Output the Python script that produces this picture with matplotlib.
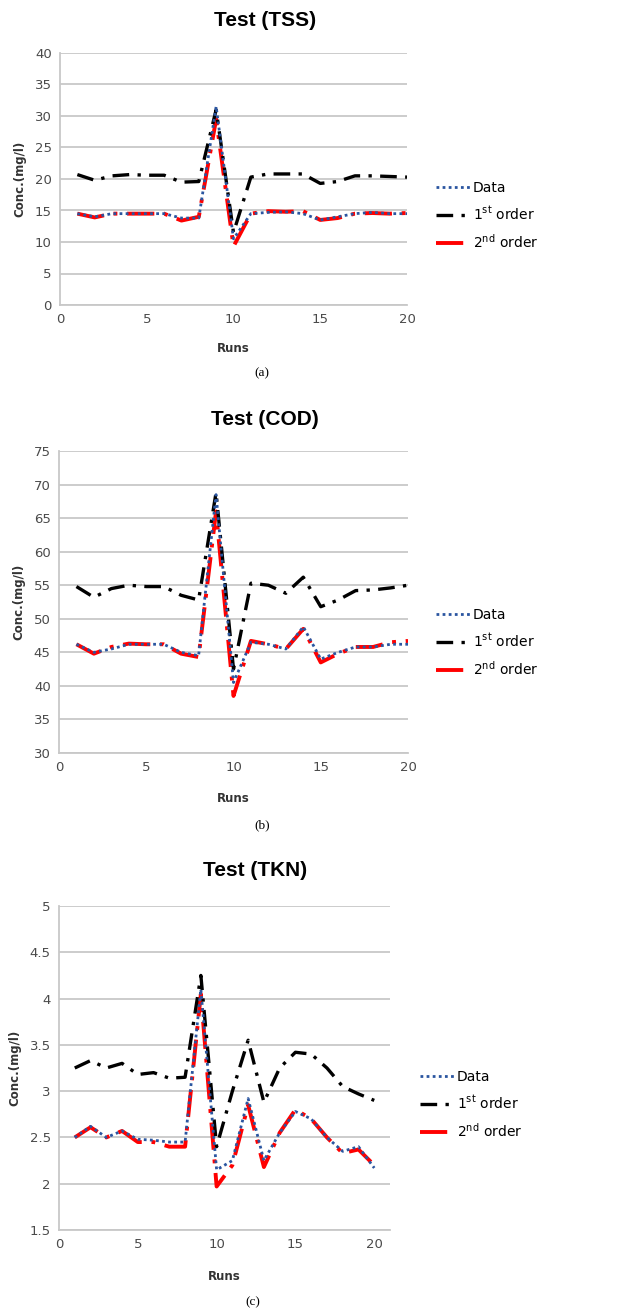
import numpy as np
import matplotlib
matplotlib.use('Agg')
import matplotlib.pyplot as plt

runs = np.arange(1, 21)

# Test (TSS)
tss_data = [14.5, 14.0, 14.5, 14.5, 14.5, 14.5, 13.8, 13.8, 31.5, 10.5,
            14.5, 14.7, 14.8, 14.5, 13.5, 14.0, 14.5, 14.7, 14.5, 14.5]
tss_1st = [20.7, 19.8, 20.5, 20.7, 20.6, 20.6, 19.5, 19.6, 31.0, 11.5,
           20.3, 20.8, 20.8, 20.8, 19.3, 19.6, 20.5, 20.5, 20.4, 20.3]
tss_2nd = [14.5, 13.9, 14.5, 14.5, 14.5, 14.5, 13.4, 14.0, 29.5, 9.3,
           14.5, 14.9, 14.8, 14.9, 13.5, 13.8, 14.5, 14.6, 14.5, 14.6]

# Test (COD)
cod_data = [46.2, 45.0, 45.5, 46.2, 46.2, 46.2, 45.0, 44.5, 68.5, 40.5,
            46.5, 46.2, 45.5, 48.8, 44.0, 45.0, 45.8, 45.8, 46.2, 46.2]
cod_1st = [54.8, 53.2, 54.5, 55.0, 54.8, 54.8, 53.5, 52.8, 68.8, 42.5,
           55.3, 55.0, 53.8, 56.2, 51.8, 52.8, 54.2, 54.3, 54.6, 55.0]
cod_2nd = [46.2, 44.8, 45.8, 46.3, 46.2, 46.2, 44.8, 44.3, 66.0, 38.5,
           46.7, 46.2, 45.5, 48.5, 43.5, 44.8, 45.8, 45.8, 46.5, 46.7]

# Test (TKN)
tkn_data = [2.50, 2.62, 2.50, 2.57, 2.48, 2.47, 2.45, 2.45, 4.10, 2.15,
            2.25, 2.92, 2.25, 2.55, 2.78, 2.70, 2.50, 2.35, 2.40, 2.17]
tkn_1st = [3.25, 3.33, 3.25, 3.30, 3.18, 3.20, 3.14, 3.15, 4.25, 2.40,
           3.00, 3.55, 2.88, 3.25, 3.42, 3.40, 3.25, 3.05, 2.97, 2.90]
tkn_2nd = [2.50, 2.61, 2.50, 2.57, 2.45, 2.45, 2.40, 2.40, 4.05, 1.97,
           2.20, 2.85, 2.18, 2.55, 2.80, 2.70, 2.50, 2.33, 2.37, 2.20]

labels = ['Data', '1$^{\\mathrm{st}}$ order', '2$^{\\mathrm{nd}}$ order']

# title, caption, series, ylim, ystep, xmax, axes box (px), title pos, runs y, caption pos, legend pos
panels = [
    ('Test (TSS)', '(a)', tss_data, tss_1st, tss_2nd, (0, 40), 5, 20,
     [60, 53, 407, 305], (265, 21), 349, (262, 373), (430, 188)),
    ('Test (COD)', '(b)', cod_data, cod_1st, cod_2nd, (30, 75), 5, 20,
     [59, 451, 408, 753], (265, 420), 799, (262, 825), (430, 615)),
    ('Test (TKN)', '(c)', tkn_data, tkn_1st, tkn_2nd, (1.5, 5), 0.5, 21,
     [59, 906, 390, 1230], (255, 870), 1277, (253, 1302), (414, 1077)),
]

W, H = 627, 1312
fig = plt.figure(figsize=(W / 100, H / 100), dpi=100)
grid_c = '#c8c8c8'
tick_c = '#4a4a4a'

for (title, cap, d, f1, f2, ylim, ystep, xmax, box, tpos, ry, cpos, lpos) in panels:
    x0, y0, x1, y1 = box
    ax = fig.add_axes([x0 / W, 1 - y1 / H, (x1 - x0) / W, (y1 - y0) / H])
    l1, = ax.plot(runs, d, color='#2a55a0', linestyle=(0, (1, 1.2)), lw=2.0, zorder=4)
    l2, = ax.plot(runs, f1, color='black', linestyle=(0, (5, 2.5, 1, 2.5)), lw=2.4, zorder=3)
    l3, = ax.plot(runs, f2, color='#ff0000', linestyle=(0, (7, 2.5, 1, 2.5)), lw=2.8, zorder=2)
    ax.set_xlim(0, xmax)
    ax.set_ylim(*ylim)
    ax.set_xticks([0, 5, 10, 15, 20])
    ax.set_yticks(np.arange(ylim[0], ylim[1] + ystep / 2, ystep))
    ax.yaxis.set_major_formatter(matplotlib.ticker.FuncFormatter(lambda v, p: f'{v:g}'))
    ax.grid(axis='y', color=grid_c, lw=1.3)
    ax.set_axisbelow(True)
    for s in ['top', 'right']:
        ax.spines[s].set_visible(False)
    for s in ['left', 'bottom']:
        ax.spines[s].set_color(grid_c)
        ax.spines[s].set_linewidth(1.3)
    ax.tick_params(length=0, labelsize=9.5, colors=tick_c, pad=6)
    ax.set_ylabel('Conc.(mg/l)', fontsize=8.5, fontweight='bold', color='#333333', labelpad=6)

    fig.text(tpos[0] / W, 1 - tpos[1] / H, title, ha='center', va='center',
             fontsize=15, fontweight='bold', family='Liberation Sans')
    fig.text((x0 + x1) / 2 / W, 1 - ry / H, 'Runs', ha='center', va='center',
             fontsize=8.5, fontweight='bold', color='#333333')
    fig.text(cpos[0] / W, 1 - cpos[1] / H, cap, ha='center', va='center',
             fontsize=9.5, family='Liberation Serif')

    fig.legend([l1, l2, l3], labels, loc='upper left',
               bbox_to_anchor=(lpos[0] / W, 1 - (lpos[1] - 13) / H),
               frameon=False, fontsize=10, handlelength=2.5, handletextpad=0.2,
               labelspacing=0.75, borderaxespad=0)

fig.savefig('out.png', dpi=100)
